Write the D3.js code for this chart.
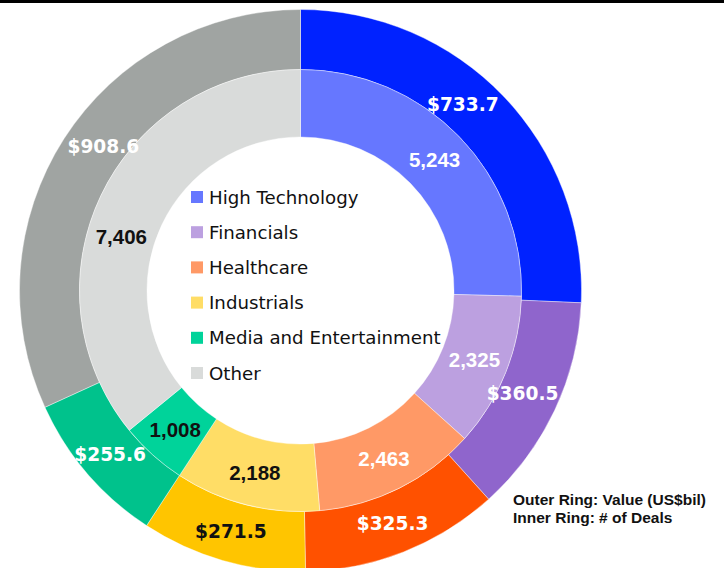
<!DOCTYPE html>
<html>
<head>
<meta charset="utf-8">
<script src="https://cdn.jsdelivr.net/npm/d3@7"></script>
<style>
  html, body { margin: 0; padding: 0; background: #fff; }
  #chart { width: 724px; height: 568px; }
</style>
</head>
<body>
<div id="chart"></div>
<script>
// sector data
const sectors = ['High Technology', 'Financials', 'Healthcare', 'Industrials', 'Media and Entertainment', 'Other'];
const valueBil = [733.7, 360.5, 325.3, 271.5, 255.6, 908.6];   // outer ring
const dealCount = [5243, 2325, 2463, 2188, 1008, 7406];        // inner ring
const outerColors = ['#0022ff', '#8f65cc', '#ff5100', '#ffc500', '#00c28c', '#a0a4a2'];
const innerColors = ['#6677ff', '#bca0e0', '#ff9966', '#ffdd66', '#00d39a', '#d9dbda'];
const outerLabelFill = ['#fff', '#fff', '#fff', '#111', '#fff', '#fff'];
const innerLabelFill = ['#fff', '#fff', '#fff', '#111', '#111', '#111'];
const footnote = ['Outer Ring: Value (US$bil)', 'Inner Ring: # of Deals'];

(function(){
  const W = 724, H = 568;
  const svg = d3.select('#chart').append('svg')
    .attr('width', W).attr('height', H).attr('viewBox', `0 0 ${W} ${H}`);

  // black rule along the top edge
  svg.append('rect').attr('x', 0).attr('y', 0).attr('width', W).attr('height', 3).attr('fill', '#000');

  const cx = 300.5, cy = 290.5;
  const rHole = 153.5, rMid = 221, rOuter = 281;

  const pie = d3.pie().sort(null).value(d => d.v);
  const g = svg.append('g').attr('transform', `translate(${cx},${cy})`);

  const outerData = pie(valueBil.map((v, i) => ({ v, i })));
  const innerData = pie(dealCount.map((v, i) => ({ v, i })));

  const outerArc = d3.arc().innerRadius(rMid).outerRadius(rOuter);
  const innerArc = d3.arc().innerRadius(rHole).outerRadius(rMid);

  g.selectAll('path.outer').data(outerData).enter().append('path')
    .attr('class', 'outer')
    .attr('d', outerArc)
    .attr('fill', d => outerColors[d.data.i])
    .attr('stroke', '#fff').attr('stroke-width', 0.4);

  g.selectAll('path.inner').data(innerData).enter().append('path')
    .attr('class', 'inner')
    .attr('d', innerArc)
    .attr('fill', d => innerColors[d.data.i])
    .attr('stroke', '#fff').attr('stroke-width', 0.4);

  // a few labels were dragged off their centroid in the original
  const outerNudge = { 0: [-19, -12], 1: [-5, -4], 5: [14, -8] };
  const innerNudge = { 5: [-10, 26] };
  const place = (arc, nudge) => d => {
    const c = arc.centroid(d), n = nudge[d.data.i] || [0, 0];
    return `translate(${c[0] + n[0]},${c[1] + n[1]})`;
  };

  // value labels
  const fmtDeals = d3.format(',');
  g.selectAll('text.outer-lbl').data(outerData).enter().append('text')
    .attr('class', 'outer-lbl')
    .attr('transform', place(outerArc, outerNudge))
    .attr('text-anchor', 'middle')
    .attr('dominant-baseline', 'central')
    .attr('font-family', 'DejaVu Sans, Verdana, sans-serif')
    .attr('font-weight', 700)
    .attr('font-size', 18.6)
    .attr('fill', d => outerLabelFill[d.data.i])
    .text(d => '$' + d.data.v.toFixed(1));

  g.selectAll('text.inner-lbl').data(innerData).enter().append('text')
    .attr('class', 'inner-lbl')
    .attr('transform', place(innerArc, innerNudge))
    .attr('text-anchor', 'middle')
    .attr('dominant-baseline', 'central')
    .attr('font-family', 'Liberation Sans, Arial, sans-serif')
    .attr('font-weight', 700)
    .attr('font-size', 20.5)
    .attr('fill', d => innerLabelFill[d.data.i])
    .text(d => fmtDeals(d.data.v));

  // legend in the hole
  const legend = svg.append('g').attr('transform', 'translate(191,197)');
  sectors.forEach((s, i) => {
    const row = legend.append('g').attr('transform', `translate(0,${i * 35.2})`);
    row.append('rect').attr('x', 0).attr('y', -6).attr('width', 12).attr('height', 12).attr('fill', innerColors[i]);
    row.append('text').attr('x', 18).attr('y', 0)
      .attr('dominant-baseline', 'central')
      .attr('font-family', 'DejaVu Sans, Tahoma, sans-serif')
      .attr('font-size', 18.2)
      .attr('fill', '#111')
      .text(s);
  });

  // footnote
  const note = svg.append('g').attr('transform', 'translate(513,505)');
  footnote.forEach((t, i) => {
    note.append('text').attr('x', 0).attr('y', i * 18)
      .attr('font-family', 'Liberation Sans, Arial, sans-serif')
      .attr('font-weight', 700)
      .attr('font-size', 15.5)
      .attr('fill', '#111')
      .text(t);
  });
})();
</script>
</body>
</html>
